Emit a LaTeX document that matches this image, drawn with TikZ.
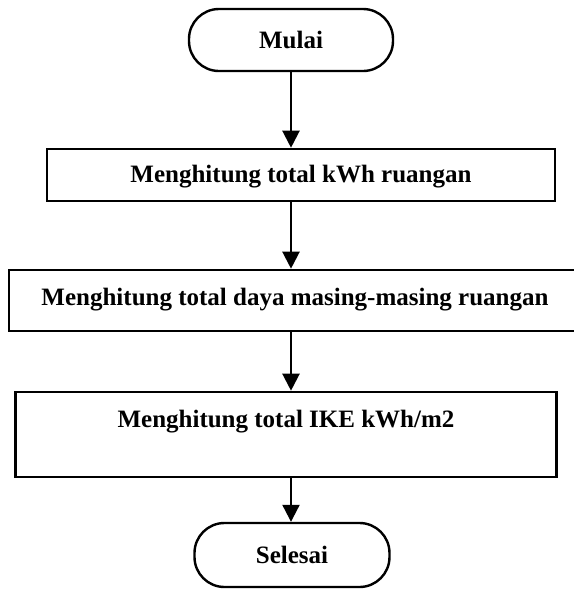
\documentclass[tikz,border=0pt]{standalone}
\usepackage{fontspec}
\setmainfont{Liberation Serif}
\usetikzlibrary{arrows.meta, positioning}
\tikzset{
  terminal/.style={draw, line width=1.2pt, rounded corners=15pt, inner sep=0pt,
                   font=\bfseries\fontsize{12.5}{15}\selectfont},
  process/.style={draw, line width=1.3pt, inner sep=0pt,
                  font=\bfseries\fontsize{12.5}{15}\selectfont},
  flow/.style={-{Triangle[length=8.5pt,width=8.5pt]}, line width=1.1pt}
}

\begin{document}
\begin{tikzpicture}[x=0.5pt, y=-0.5pt]
    \useasboundingbox (0,0) rectangle (574,591);
    % Start / end
    \node[terminal, minimum width=102pt, minimum height=31pt] (mulai) at (291,40) {Mulai};
    \node[terminal, minimum width=97.5pt, minimum height=32pt] (selesai) at (292,555) {Selesai};
    % Steps
    \node[process, minimum width=254pt, text height=16.5pt, text depth=9.5pt] (kwh) at (301,175)
        {Menghitung total kWh ruangan};
    \node[process, minimum width=286pt, text height=17.5pt, text depth=13pt] (daya) at (295,300.5)
        {Menghitung total daya masing-masing ruangan};
    \node[process, minimum width=270.5pt, text height=17.5pt, text depth=25pt] (ike) at (286,434.5)
        {Menghitung total IKE kWh/m2};
    % Arrows
    \draw[flow] (mulai.south) -- (mulai |- kwh.north);
    \draw[flow] (mulai |- kwh.south) -- (mulai |- daya.north);
    \draw[flow] (mulai |- daya.south) -- (mulai |- ike.north);
    \draw[flow] (mulai |- ike.south) -- (selesai.north -| mulai);
\end{tikzpicture}
\end{document}
